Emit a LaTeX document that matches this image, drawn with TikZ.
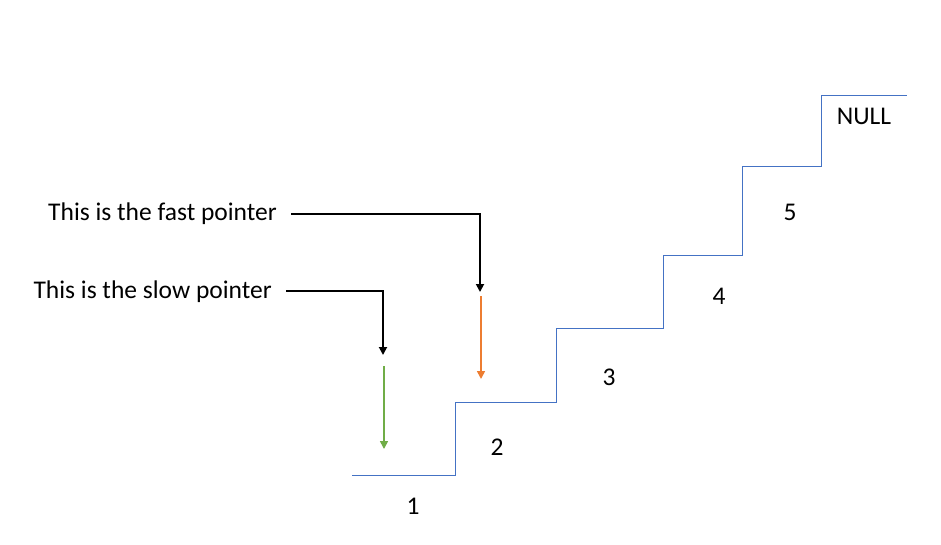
\documentclass[tikz,border=0pt]{standalone}
\usepackage{fontspec}
\setmainfont{Carlito}
\usetikzlibrary{arrows.meta}
\definecolor{stairblue}{HTML}{4472C4}
\definecolor{fastorange}{HTML}{ED7D31}
\definecolor{slowgreen}{HTML}{70AD47}
\tikzset{
  lbl/.style={inner sep=0pt, font=\fontsize{25.5}{30}\selectfont},
  callout/.style={line width=1.8pt, black, -{Triangle[width=8pt,length=8pt]}},
  ptr/.style={line width=1.6pt, -{Triangle[width=8pt,length=8pt]}},
  stair/.style={line width=0.9pt, stairblue}
}
\begin{document}
\begin{tikzpicture}[x=1pt,y=-1pt]
\useasboundingbox (0,0) rectangle (941,544);
% staircase
\draw[stair] (352,475) -- (455,475) -- (455,402) -- (556,402) -- (556,328) -- (663,328) -- (663,255) -- (742,255) -- (742,166) -- (821,166) -- (821,95) -- (907,95);
% step labels
\node[lbl] (s1) at (413,506) {1};
\node[lbl] (s2) at (497,447) {2};
\node[lbl] (s3) at (609,377) {3};
\node[lbl] (s4) at (719,296) {4};
\node[lbl] (s5) at (790,212) {5};
\node[lbl] (null) at (864,116) {NULL};
% pointer texts
\node[lbl, anchor=east] (fast) at (277,214) {This is the fast pointer};
\node[lbl, anchor=east] (slow) at (272,292) {This is the slow pointer};
\coordinate (fastcorner) at (480,214);
\coordinate (fasttip) at (480,292);
\coordinate (slowcorner) at (383,291);
\coordinate (slowtip) at (383,355);
\draw[callout] ([xshift=14pt]fast.east |- fastcorner) -- (fastcorner) -- (fasttip);
\draw[callout] ([xshift=14pt]slow.east |- slowcorner) -- (slowcorner) -- (slowtip);
% pointer arrows
\coordinate (oa) at (481,296);
\coordinate (ob) at (481,379);
\coordinate (ga) at (384,366);
\coordinate (gb) at (384,449);
\draw[ptr, fastorange] (oa) -- (ob);
\draw[ptr, slowgreen] (ga) -- (gb);
\end{tikzpicture}
\end{document}
